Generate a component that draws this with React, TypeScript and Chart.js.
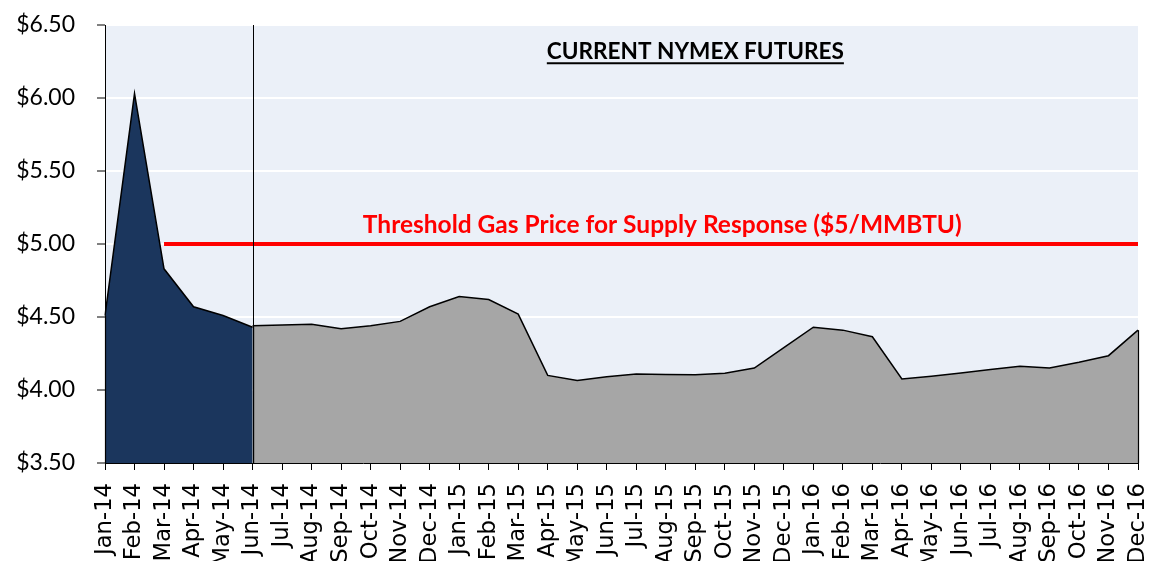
import React, { useEffect, useRef } from "react";
import { Chart, registerables } from "chart.js";

Chart.register(...registerables);

const months = [
  "Jan-14", "Feb-14", "Mar-14", "Apr-14", "May-14", "Jun-14", "Jul-14", "Aug-14", "Sep-14", "Oct-14", "Nov-14", "Dec-14",
  "Jan-15", "Feb-15", "Mar-15", "Apr-15", "May-15", "Jun-15", "Jul-15", "Aug-15", "Sep-15", "Oct-15", "Nov-15", "Dec-15",
  "Jan-16", "Feb-16", "Mar-16", "Apr-16", "May-16", "Jun-16", "Jul-16", "Aug-16", "Sep-16", "Oct-16", "Nov-16", "Dec-16",
];

// Jan-14 .. Jun-14 (realized prices), rest empty
const historicalPrices: (number | null)[] = [
  4.51, 6.03, 4.83, 4.57, 4.51, 4.43,
  null, null, null, null, null, null,
  null, null, null, null, null, null, null, null, null, null, null, null,
  null, null, null, null, null, null, null, null, null, null, null, null,
];

// NYMEX futures strip, Jun-14 .. Dec-16
const futuresPrices: (number | null)[] = [
  null, null, null, null, null, 4.44, 4.445, 4.45, 4.42, 4.44, 4.47, 4.57,
  4.64, 4.62, 4.52, 4.10, 4.065, 4.09, 4.11, 4.107, 4.104, 4.115, 4.15, 4.29,
  4.43, 4.41, 4.365, 4.075, 4.095, 4.117, 4.14, 4.163, 4.15, 4.19, 4.235, 4.41,
];

// Threshold gas price line ($5/MMBTU), Mar-14 .. Dec-16
const thresholdPrices: (number | null)[] = [
  null, null, 5, 5, 5, 5, 5, 5, 5, 5, 5, 5,
  5, 5, 5, 5, 5, 5, 5, 5, 5, 5, 5, 5,
  5, 5, 5, 5, 5, 5, 5, 5, 5, 5, 5, 5,
];

const futuresStartLabel = "Jun-14";
const titleText = "CURRENT NYMEX FUTURES";
const thresholdText = "Threshold Gas Price for Supply Response ($5/MMBTU)";

const annotatePlugin = {
  id: "annotate",
  beforeDraw(chart: any) {
    const { ctx, chartArea } = chart;
    ctx.save();
    ctx.fillStyle = "#EBF0F8";
    ctx.fillRect(chartArea.left, chartArea.top, chartArea.right - chartArea.left, chartArea.bottom - chartArea.top);
    ctx.restore();
  },
  afterDatasetsDraw(chart: any) {
    const { ctx, chartArea, scales } = chart;
    const x = scales.x;
    const y = scales.y;
    ctx.save();
    // vertical edges of the filled areas
    ctx.strokeStyle = "#000";
    ctx.lineWidth = 1.2;
    [0, 1].forEach((di) => {
      const data = chart.data.datasets[di].data as (number | null)[];
      let first = -1;
      let last = -1;
      data.forEach((v, i) => {
        if (v !== null) {
          if (first < 0) first = i;
          last = i;
        }
      });
      [first, last].forEach((i) => {
        const px = Math.round(x.getPixelForValue(i)) + 0.5;
        ctx.beginPath();
        ctx.moveTo(px, y.getPixelForValue(data[i] as number));
        ctx.lineTo(px, chartArea.bottom);
        ctx.stroke();
      });
    });
    // divider at start of futures
    const dx = Math.round(x.getPixelForValue(months.indexOf(futuresStartLabel))) + 0.5;
    ctx.lineWidth = 1;
    ctx.beginPath();
    ctx.moveTo(dx, chartArea.top);
    ctx.lineTo(dx, chartArea.bottom);
    ctx.stroke();

    // title
    const w = chartArea.right - chartArea.left;
    const tcx = chartArea.left + w * 0.5715;
    ctx.font = "bold 22.6px Lato";
    ctx.fillStyle = "#000";
    ctx.textAlign = "center";
    ctx.textBaseline = "alphabetic";
    const tw = ctx.measureText(titleText).width;
    const tby = y.getPixelForValue(6.265);
    ctx.fillText(titleText, tcx, tby);
    ctx.lineWidth = 2;
    ctx.beginPath();
    ctx.moveTo(tcx - tw / 2, tby + 4);
    ctx.lineTo(tcx + tw / 2, tby + 4);
    ctx.stroke();

    // threshold label
    ctx.font = "bold 24.5px Lato";
    ctx.fillStyle = "#FF0000";
    const rcx = chartArea.left + w * 0.5395;
    ctx.fillText(thresholdText, rcx, y.getPixelForValue(5) - 11);
    ctx.restore();
  },
};

export default function App() {
  const canvasRef = useRef<HTMLCanvasElement | null>(null);

  useEffect(() => {
    document.body.style.margin = "0";
    const canvas = canvasRef.current;
    if (!canvas) return;
    const chart = new Chart(canvas, {
      type: "line",
      data: {
        labels: months,
        datasets: [
          {
            label: "Historical",
            data: historicalPrices,
            borderColor: "#000",
            borderWidth: 1.5,
            backgroundColor: "#1B365D",
            fill: "start",
            pointRadius: 0,
            tension: 0,
            spanGaps: false,
            order: 2,
          },
          {
            label: "NYMEX Futures",
            data: futuresPrices,
            borderColor: "#000",
            borderWidth: 1.5,
            backgroundColor: "#A6A6A6",
            fill: "start",
            pointRadius: 0,
            tension: 0,
            spanGaps: false,
            order: 2,
          },
          {
            label: "Threshold",
            data: thresholdPrices,
            borderColor: "#FF0000",
            borderWidth: 4,
            fill: false,
            pointRadius: 0,
            tension: 0,
            order: 0,
          },
        ],
      },
      options: {
        responsive: false,
        animation: false,
        layout: { padding: { left: 0, top: 25, right: 12, bottom: 0 } },
        plugins: {
          legend: { display: false },
          tooltip: { enabled: false },
          title: { display: false },
        },
        scales: {
          x: {
            offset: false,
            grid: {
              display: true,
              drawOnChartArea: false,
              drawTicks: true,
              tickLength: 7,
              tickColor: "#000",
              color: "#000",
            },
            border: { display: true, color: "#000", width: 1 },
            ticks: {
              autoSkip: false,
              maxRotation: 90,
              minRotation: 90,
              padding: 13,
              color: "#000",
              font: { family: "DejaVu Sans", size: 22.7 },
            },
            afterFit: (scale: any) => {
              scale.height = 98;
              scale.paddingLeft = 0;
              scale.paddingRight = 0;
            },
          },
          y: {
            min: 3.5,
            max: 6.5,
            ticks: {
              stepSize: 0.5,
              padding: 22,
              color: "#000",
              font: { family: "Lato", size: 23 },
              callback: (v: any) => "$" + Number(v).toFixed(2),
            },
            grid: {
              color: "#FFFFFF",
              lineWidth: 2,
              tickColor: "#000",
              tickLength: 8,
              tickWidth: 1,
            },
            border: { display: true, color: "#000", width: 1 },
            afterFit: (scale: any) => {
              scale.width = 105;
              scale.paddingTop = 0;
              scale.paddingBottom = 0;
            },
          },
        },
      },
      plugins: [annotatePlugin],
    });
    return () => chart.destroy();
  }, []);

  return <canvas ref={canvasRef} width={1150} height={561} style={{ display: "block", width: 1150, height: 561 }} />;
}
